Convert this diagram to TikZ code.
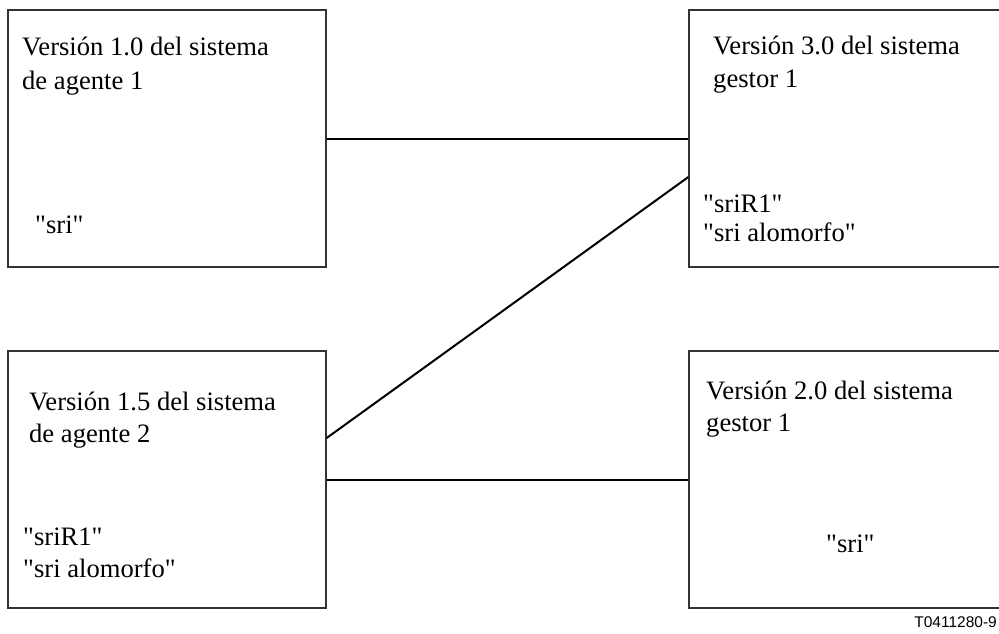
\documentclass[tikz,border=0pt]{standalone}
\usepackage{fontspec}
\setmainfont{Liberation Serif}
\newfontfamily\labelfont{Liberation Sans}
\newcommand\qd{\textquotedbl}
\begin{document}
\begin{tikzpicture}[x=1pt,y=-1pt,
  box/.style={draw=black!80,line width=1.3pt,rectangle,minimum width=318pt,minimum height=257pt,inner sep=0pt},
  conn/.style={draw=black,line width=2pt},
  txt/.style={anchor=base west,inner sep=0pt,font=\fontsize{26.6}{32}\selectfont},
  tag/.style={anchor=base east,inner sep=0pt,font=\labelfont\fontsize{15.5}{18}\selectfont}]
\useasboundingbox (0,0) rectangle (999,633);
\clip (0,0) rectangle (999,633);
\node[box] (A) at (167,138.5) {};
\node[box] (B) at (848,138.5) {};
\node[box] (C) at (167,479.5) {};
\node[box] (D) at (848,479.5) {};
\draw[conn] (A.east) -- (B.west);
\draw[conn] (C.east) -- (D.west);
\draw[conn] ([yshift=41.5pt]C.east) -- ([yshift=-38.5pt]B.west);
\node[txt] (a1) at (22,55) {Versión 1.0 del sistema};
\node[txt] (a2) at (22,89) {de agente 1};
\node[txt] (a3) at (35,233) {\qd sri\qd};
\node[txt] (b1) at (713,54) {Versión 3.0 del sistema};
\node[txt] (b2) at (713,87) {gestor 1};
\node[txt] (b3) at (703,212) {\qd sriR1\qd};
\node[txt] (b4) at (703,241) {\qd sri alomorfo\qd};
\node[txt] (c1) at (29,410) {Versión 1.5 del sistema};
\node[txt] (c2) at (29,442) {de agente 2};
\node[txt] (c3) at (23,545) {\qd sriR1\qd};
\node[txt] (c4) at (23,577) {\qd sri alomorfo\qd};
\node[txt] (d1) at (706,399) {Versión 2.0 del sistema};
\node[txt] (d2) at (706,431) {gestor 1};
\node[txt] (d3) at (826,552) {\qd sri\qd};
\node[tag] (t) at (997,627) {T0411280-9};
\end{tikzpicture}
\end{document}
